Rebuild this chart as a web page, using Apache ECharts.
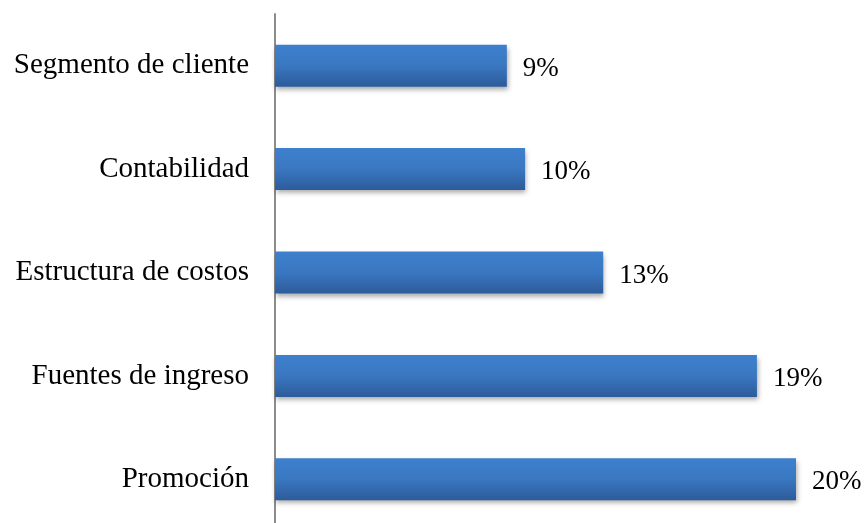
<!DOCTYPE html>
<html>
<head>
<meta charset="utf-8">
<script src="https://cdn.jsdelivr.net/npm/echarts@6/dist/echarts.min.js"></script>
<style>
  html, body { margin: 0; padding: 0; background: #fff; overflow: hidden; }
  #chart { width: 866px; height: 545px; }
</style>
</head>
<body>
<div id="chart"></div>
<script>
// Categories listed top to bottom
const categories = ['Segmento de cliente', 'Contabilidad', 'Estructura de costos', 'Fuentes de ingreso', 'Promoción'];
// Shares in percent; labels show them rounded
const shares = [8.9, 9.6, 12.6, 18.5, 20.0];

const chart = echarts.init(document.getElementById('chart'));
const serif = '"Liberation Serif", "Times New Roman", serif';

chart.setOption({
  animation: false,
  grid: { left: 275, right: 70, top: 14, height: 517 },
  xAxis: {
    type: 'value', min: 0, max: 20, show: false
  },
  yAxis: {
    type: 'category',
    data: categories,
    inverse: true,
    axisLine: { show: true, lineStyle: { color: '#8c8c8c', width: 2 } },
    axisTick: { show: false },
    axisLabel: { color: '#000', fontFamily: serif, fontSize: 29, margin: 26, padding: [5, 0, 0, 0] }
  },
  series: [{
    type: 'bar',
    data: shares,
    barWidth: 42,
    itemStyle: {
      color: new echarts.graphic.LinearGradient(0, 0, 0, 1, [
        { offset: 0, color: '#3e80cd' },
        { offset: 0.5, color: '#3a77c1' },
        { offset: 1, color: '#2c5b9a' }
      ]),
      shadowColor: 'rgba(0,0,0,0.35)',
      shadowBlur: 5,
      shadowOffsetX: 1,
      shadowOffsetY: 3
    },
    label: {
      show: true,
      position: 'right',
      distance: 16,
      offset: [0, 3],
      color: '#000',
      fontFamily: serif,
      fontSize: 27,
      formatter: p => Math.round(p.value) + '%'
    }
  }]
});
</script>
</body>
</html>
